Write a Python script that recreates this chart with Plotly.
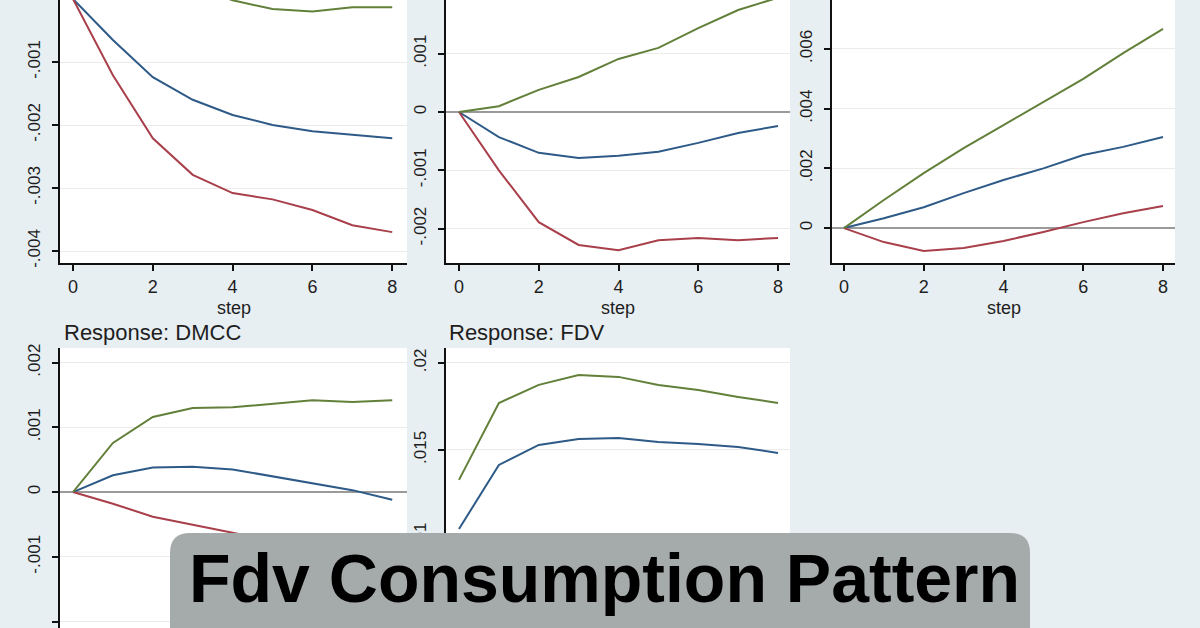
import plotly.graph_objects as go

# ---------------- data ----------------
steps = [0, 1, 2, 3, 4, 5, 6, 7, 8]

# top-left panel (response cut off)
p1_blue = [0, -0.00065, -0.00124, -0.0016, -0.00184, -0.0020, -0.0021, -0.00216, -0.00221]
p1_red = [0, -0.00121, -0.00221, -0.00279, -0.00308, -0.00318, -0.00335, -0.00359, -0.0037]
p1_green = [0, 0.0002, 0.0003, 0.0002, -0.00002, -0.00016, -0.0002, -0.00013, -0.00013]

# top-middle panel
p2_blue = [0, -0.00043, -0.0007, -0.00079, -0.00075, -0.00068, -0.00053, -0.00036, -0.00024]
p2_red = [0, -0.001, -0.00189, -0.00228, -0.00237, -0.0022, -0.00216, -0.0022, -0.00216]
p2_green = [0, 0.0001, 0.00038, 0.0006, 0.00091, 0.0011, 0.00144, 0.00175, 0.00196]

# top-right panel
p3_blue = [0, 0.00033, 0.0007, 0.00117, 0.00161, 0.002, 0.00245, 0.00272, 0.00305]
p3_red = [0, -0.00047, -0.00077, -0.00067, -0.00043, -0.00013, 0.0002, 0.0005, 0.00074]
p3_green = [0, 0.00094, 0.00184, 0.00268, 0.00345, 0.00422, 0.005, 0.00586, 0.00667]

# Response: DMCC
p4_blue = [0, 0.00026, 0.00038, 0.00039, 0.00035, 0.00024, 0.00013, 0.00003, -0.00012]
p4_red = [0, -0.00018, -0.00038, -0.00051, -0.00063, -0.00075, -0.00085, -0.00095, -0.00105]
p4_green = [0, 0.00076, 0.00116, 0.0013, 0.00131, 0.00137, 0.00142, 0.00139, 0.00142]

# Response: FDV
p5_blue = [0.01046, 0.01414, 0.01529, 0.01563, 0.01569, 0.01546, 0.01534, 0.01517, 0.01483]
p5_green = [0.01328, 0.0177, 0.01874, 0.01931, 0.0192, 0.01874, 0.01845, 0.01805, 0.0177]

x_ticks = [0, 2, 4, 6, 8]
x_ticktext = ["0", "2", "4", "6", "8"]

p1_yticks = [0, -0.001, -0.002, -0.003, -0.004]
p1_yticktext = ["0", "-.001", "-.002", "-.003", "-.004"]
p2_yticks = [0.002, 0.001, 0, -0.001, -0.002]
p2_yticktext = [".002", ".001", "0", "-.001", "-.002"]
p3_yticks = [0, 0.002, 0.004, 0.006, 0.008]
p3_yticktext = ["0", ".002", ".004", ".006", ".008"]
p4_yticks = [0.002, 0.001, 0, -0.001, -0.002]
p4_yticktext = [".002", ".001", "0", "-.001", "-.002"]
p5_yticks = [0.01, 0.015, 0.02]
p5_yticktext = [".01", ".015", ".02"]

panel_titles = ["Response: DMCC", "Response: FDV"]
x_title = "step"
overlay_title = "Fdv Consumption Pattern"

# ---------------- style ----------------
W, H = 1200, 628
BLUE = "#2e5a88"
RED = "#a83f4a"
GREEN = "#62803a"
BG = "#e8eff2"
TXT = "#1e1e1e"
FONT = "Liberation Sans, Arial, sans-serif"


def px_x(p):
    return p / W


def px_y(p):
    return 1 - p / H


panels = [
    # (blue, red, green, xdomain px, ydomain px, xrange, yrange, yticks, yticktext, top_row)
    (p1_blue, p1_red, p1_green, (60, 407), (0, 263), [-0.326, 8.37], [-0.00419, -0.0000159], p1_yticks, p1_yticktext, True),
    (p2_blue, p2_red, p2_green, (446, 790), (0, 263), [-0.326, 8.30], [-0.00259, 0.001921], p2_yticks, p2_yticktext, True),
    (p3_blue, p3_red, p3_green, (832, 1175), (0, 263), [-0.30, 8.30], [-0.00117, 0.00764], p3_yticks, p3_yticktext, True),
    (p4_blue, p4_red, p4_green, (60, 407), (348, 628), [-0.326, 8.37], [-0.0021, 0.002226], p4_yticks, p4_yticktext, False),
    (p5_blue, None, p5_green, (446, 790), (348, 628), [-0.326, 8.30], [0.00477, 0.02086], p5_yticks, p5_yticktext, False),
]

fig = go.Figure()
layout = {}
for i, (b, r, g, xd, yd, xr, yr, yt, ytt, top) in enumerate(panels, start=1):
    xa = "x" if i == 1 else f"x{i}"
    ya = "y" if i == 1 else f"y{i}"
    for series, col in ((b, BLUE), (r, RED), (g, GREEN)):
        if series is None:
            continue
        fig.add_trace(go.Scatter(x=steps, y=series, mode="lines", xaxis=xa, yaxis=ya,
                                 line=dict(color=col, width=2), showlegend=False,
                                 hoverinfo="skip"))
    xkey = "xaxis" if i == 1 else f"xaxis{i}"
    ykey = "yaxis" if i == 1 else f"yaxis{i}"
    layout[xkey] = dict(
        domain=[px_x(xd[0]), px_x(xd[1])], range=xr, anchor=ya, automargin=False,
        tickvals=x_ticks, ticktext=x_ticktext, ticks="outside", ticklen=6,
        tickwidth=1.5, tickcolor="#111", showline=True, linecolor="#111",
        linewidth=1.8, showgrid=False, zeroline=False, showticklabels=top,
        tickfont=dict(family=FONT, size=18, color=TXT), ticklabelstandoff=0,
    )
    layout[ykey] = dict(
        domain=[px_y(yd[1]), px_y(yd[0])], range=yr, anchor=xa, automargin=False,
        tickvals=yt, ticktext=ytt, ticks="outside", ticklen=6, tickwidth=1.5,
        tickcolor="#111", showline=True, linecolor="#111", linewidth=1.8,
        showgrid=True, gridcolor="#ebebeb", gridwidth=1,
        zeroline=True, zerolinecolor="#9a9a9a", zerolinewidth=1.5,
        tickangle=-90, tickfont=dict(family=FONT, size=17, color=TXT),
        ticklabelstandoff=5,
    )

annotations = []
for i in (1, 2, 3):
    xa = "x" if i == 1 else f"x{i}"
    annotations.append(dict(text=x_title, xref=f"{xa} domain", x=0.5, yref="paper",
                            y=px_y(307.5), xanchor="center", yanchor="middle",
                            showarrow=False, font=dict(family=FONT, size=18, color=TXT)))
for title, xpx in zip(panel_titles, (62, 447)):
    annotations.append(dict(text=title, xref="paper", x=px_x(xpx), yref="paper",
                            y=px_y(332), xanchor="left", yanchor="middle",
                            showarrow=False, font=dict(family=FONT, size=22, color=TXT)))

# overlay banner with rounded top corners
bx0, bx1, byt, ybot, rad = 170, 1030, 533, 700, 20
x0, x1 = px_x(bx0), px_x(bx1)
yt, yb = px_y(byt), px_y(ybot)
dx, dy = rad / W, rad / H
path = (f"M {x0},{yb} L {x0},{yt - dy} Q {x0},{yt} {x0 + dx},{yt} "
        f"L {x1 - dx},{yt} Q {x1},{yt} {x1},{yt - dy} L {x1},{yb} Z")
shapes = [dict(type="path", path=path, xref="paper", yref="paper",
               fillcolor="#a5abaa", line=dict(width=0), layer="above")]
annotations.append(dict(text=f"<b>{overlay_title}</b>", xref="paper", x=px_x(604),
                        yref="paper", y=px_y(578), xanchor="center", yanchor="middle",
                        showarrow=False,
                        font=dict(family=FONT, size=68, color="#000000")))

fig.update_layout(
    template="none",
    width=W, height=H, autosize=False,
    margin=dict(l=0, r=0, t=0, b=0, pad=0),
    paper_bgcolor=BG, plot_bgcolor="#ffffff",
    annotations=annotations, shapes=shapes,
    **layout,
)

fig.write_html("out.html")
